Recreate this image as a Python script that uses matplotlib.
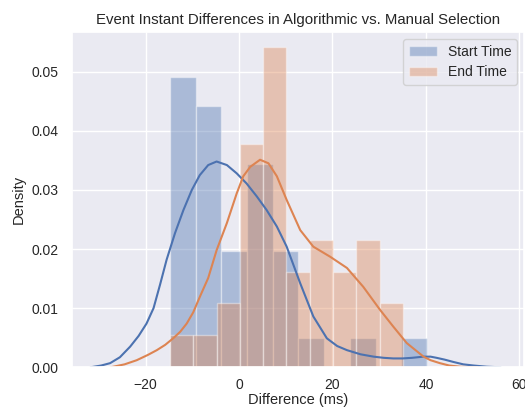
import numpy as np
import matplotlib
matplotlib.use('Agg')
import matplotlib.pyplot as plt
import seaborn as sns

# histogram bins (density)
start_edges = [-14.78, -9.28, -3.78, 1.72, 7.22, 12.72, 18.22, 23.72, 29.22, 34.72, 40.22]
start_density = [0.0491, 0.0442, 0.0196, 0.0343, 0.0196, 0.0049, 0.0, 0.0049, 0.0, 0.0049]

end_edges = [-14.8, -9.81, -4.82, 0.17, 5.16, 10.15, 15.14, 20.13, 25.12, 30.11, 35.1]
end_density = [0.0054, 0.0054, 0.0108, 0.0378, 0.0541, 0.0162, 0.0216, 0.0162, 0.0216, 0.0108]

# kde curves
start_kde_x = [-31.8, -29.5, -27.6, -25.5, -23.3, -21.5, -19.8, -18.3, -16.9, -15.5,
               -13.7, -11.9, -10.1, -8.4, -6.6, -4.8, -2.6, -0.5, 1.6, 3.8, 5.9, 8.1,
               10.2, 13.1, 15.9, 18.8, 21.0, 23.1, 26.0, 28.8, 31.0, 33.0, 35.0, 37.0,
               39.5, 41.0, 42.3, 44.0, 45.9, 48.0, 50.2, 53.0, 56.0]
start_kde_y = [0.0, 0.0003, 0.0007, 0.0017, 0.0035, 0.0053, 0.0074, 0.0100, 0.0140, 0.0182,
               0.0227, 0.0266, 0.0300, 0.0325, 0.0342, 0.0348, 0.0342, 0.0328, 0.0311,
               0.0289, 0.0266, 0.0238, 0.0204, 0.0142, 0.0086, 0.0049, 0.0036, 0.0029,
               0.0022, 0.0018, 0.0016, 0.0015, 0.0015, 0.0016, 0.0018, 0.0018, 0.0016,
               0.0013, 0.0009, 0.0005, 0.0003, 0.0001, 0.0]

end_kde_x = [-27.5, -24.5, -21.9, -19.5, -17.6, -15.8, -14.1, -12.6, -11.2, -9.8, -8.4,
             -6.6, -4.8, -2.6, -0.5, 0.9, 2.4, 4.5, 6.3, 8.1, 10.2, 13.1, 15.9, 19.5,
             23.1, 26.6, 30.2, 33.0, 35.9, 37.3, 39.5, 41.0, 43.0, 45.0, 47.3, 49.0, 51.0]
end_kde_y = [0.0, 0.0005, 0.0012, 0.0021, 0.0029, 0.0038, 0.0049, 0.0060, 0.0074, 0.0093,
             0.0119, 0.0151, 0.0198, 0.0244, 0.0294, 0.0323, 0.0339, 0.0351, 0.0345,
             0.0323, 0.0283, 0.0232, 0.0204, 0.0187, 0.0168, 0.0136, 0.0097, 0.0069,
             0.0041, 0.0032, 0.0018, 0.0012, 0.0007, 0.0003, 0.0001, 0.00003, 0.0]

sns.set_theme(style='darkgrid')
plt.rcParams['font.family'] = ['Liberation Sans', 'DejaVu Sans']

blue, orange = sns.color_palette('deep')[0], sns.color_palette('deep')[1]

fig = plt.figure(figsize=(5.25, 4.12), dpi=100)
ax = fig.add_axes([0.1371, 0.1085, 0.861, 0.8138])

se = np.array(start_edges)
ax.bar(se[:-1], start_density, width=np.diff(se), align='edge', color=blue,
       alpha=0.4, edgecolor='white', linewidth=1, label='Start Time')
ax.plot(start_kde_x, start_kde_y, color=blue, lw=1.5)

ee = np.array(end_edges)
ax.bar(ee[:-1], end_density, width=np.diff(ee), align='edge', color=orange,
       alpha=0.4, edgecolor='white', linewidth=1, label='End Time')
ax.plot(end_kde_x, end_kde_y, color=orange, lw=1.5)

ax.set_xlim(-35.76, 61.0)
ax.set_ylim(0, 0.0567)
ax.set_xticks([-20, 0, 20, 40, 60])
ax.set_yticks([0, 0.01, 0.02, 0.03, 0.04, 0.05])
ax.set_yticklabels(['%.2f' % v for v in [0, 0.01, 0.02, 0.03, 0.04, 0.05]])
ax.tick_params(labelsize=10)
ax.tick_params(axis='x', pad=1.5)

ax.set_xlabel('Difference (ms)', fontsize=10.5, labelpad=1)
ax.set_ylabel('Density', fontsize=10.5)
ax.set_title('Event Instant Differences in Algorithmic vs. Manual Selection', fontsize=10.8)
ax.legend(loc='upper right', fontsize=10)

fig.savefig('out.png', dpi=100)
